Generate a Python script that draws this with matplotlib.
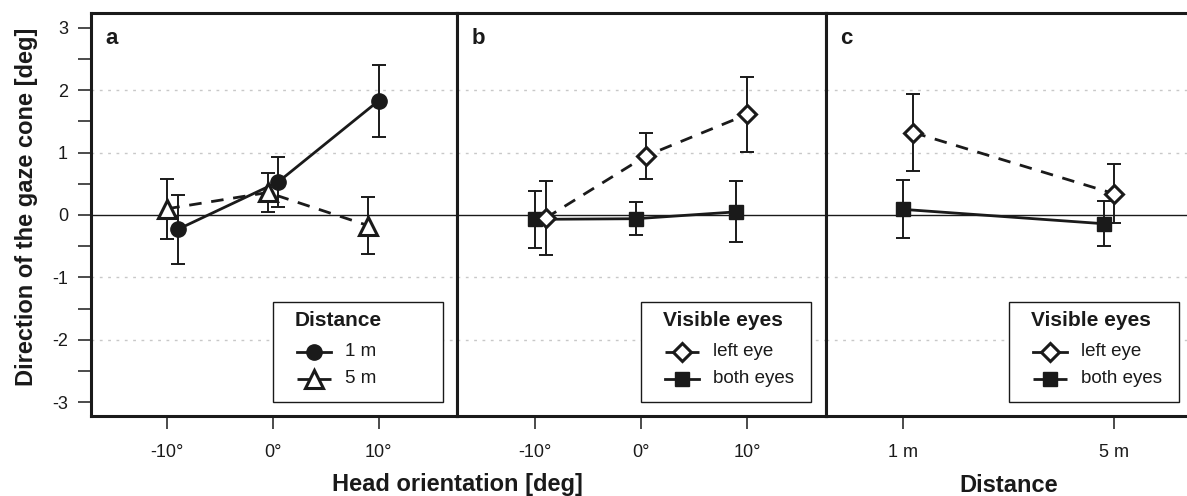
import matplotlib
matplotlib.use("Agg")
import matplotlib.pyplot as plt
from matplotlib.lines import Line2D
from matplotlib.patches import Rectangle
import numpy as np

plt.rcParams['font.family'] = ['Liberation Sans', 'DejaVu Sans']

# ---------------- data ----------------
head_labels = ["-10°", "0°", "10°"]
dist_labels = ["1 m", "5 m"]

# panel a: distance groups over head orientation
a_1m_mean = [-0.23, 0.53, 1.83]
a_1m_err = [0.55, 0.40, 0.58]
a_5m_mean = [0.10, 0.36, -0.17]
a_5m_err = [0.48, 0.31, 0.45]

# panel b: visible eyes over head orientation
b_left_mean = [-0.05, 0.95, 1.61]
b_left_err = [0.59, 0.37, 0.60]
b_both_mean = [-0.07, -0.06, 0.05]
b_both_err = [0.46, 0.26, 0.49]

# panel c: visible eyes over distance
c_left_mean = [1.32, 0.34]
c_left_err = [0.61, 0.47]
c_both_mean = [0.09, -0.14]
c_both_err = [0.465, 0.36]

# ---------------- styling ----------------
K = '#1a1a1a'
W, H = 1187, 496
fig = plt.figure(figsize=(W / 100, H / 100), dpi=100)

x0, x1, x2, x3 = 91, 457, 826, 1192
ytop, ybot = 12.7, 416
def fx(px):
    return px / W
def fy(py):
    return 1 - py / H
bottom = (H - ybot) / H
height = (ybot - ytop) / H

axa = fig.add_axes([fx(x0), bottom, fx(x1 - x0), height])
axb = fig.add_axes([fx(x1), bottom, fx(x2 - x1), height])
axc = fig.add_axes([fx(x2), bottom, fx(x3 - x2), height])

ylim = (-3.22, 3.24)
dash = (0, (4.5, 3.5))
TICK_FS = 13

def style_axes(ax, labels, xlim, letter, letter_px, show_y):
    ax.set_ylim(*ylim)
    ax.set_xlim(*xlim)
    n = len(labels)
    ax.set_xticks(np.arange(n))
    ax.set_xticklabels(labels, fontsize=TICK_FS, color=K)
    ax.tick_params(axis='x', direction='out', length=9, width=1.1, pad=11.5, color=K)
    for s in ax.spines.values():
        s.set_linewidth(2.2)
        s.set_color(K)
    for g in [-2, -1, 1, 2]:
        ax.axhline(g, color='#c8c8c8', lw=1.0, ls=(0, (2, 4)), zorder=0)
    ax.axhline(0, color=K, lw=1.0, zorder=1)
    fig.text(fx(letter_px), fy(38), letter, fontsize=16,
             fontweight='bold', color=K, va='center', ha='left')
    if show_y:
        ax.set_yticks([-3, -2, -1, 0, 1, 2, 3])
        ax.set_yticklabels(['-3', '-2', '-1', '0', '1', '2', '3'],
                           fontsize=TICK_FS, color=K)
        ax.set_yticks(np.arange(-2.5, 3.0, 1.0), minor=True)
        ax.tick_params(axis='y', which='both', direction='out', length=9.5,
                       width=1.1, pad=7, color=K)
    else:
        ax.set_yticks([])

def series(ax, xs, mean, err, marker, ms, ls, mfc, mew):
    ax.plot(xs, mean, color=K, lw=2.0, ls=ls, zorder=2, dash_capstyle='butt')
    ax.errorbar(xs, mean, yerr=err, fmt='none', ecolor=K, elinewidth=1.4,
                capsize=5, capthick=1.4, zorder=3)
    ax.plot(xs, mean, ls='none', marker=marker, ms=ms, mfc=mfc, mec=K,
            mew=mew, zorder=4)

def legend(ax, box_left, box_top, title, entries):
    tf = fig.transFigure
    bw, bh = 170, 100
    ax.add_patch(Rectangle((fx(box_left), fy(box_top + bh)), bw / W, bh / H,
                           transform=tf, facecolor='white', edgecolor=K,
                           lw=1.0, zorder=10, clip_on=False))
    ax.text(fx(box_left + 22), fy(box_top + 19), title, transform=tf,
            fontsize=15, fontweight='bold', color=K, ha='left', va='center',
            zorder=11)
    for i, (lab, ls, mk, ms, mfc, mew) in enumerate(entries):
        yy = fy(box_top + 49.5 + 27 * i)
        ax.add_line(Line2D([fx(box_left + 24), fx(box_left + 58)], [yy, yy],
                           transform=tf, color=K, lw=2.0, ls=ls,
                           dash_capstyle='butt', zorder=11, clip_on=False))
        ax.add_line(Line2D([fx(box_left + 41)], [yy], transform=tf, ls='none',
                           marker=mk, ms=ms, mfc=mfc, mec=K, mew=mew,
                           zorder=12, clip_on=False))
        ax.text(fx(box_left + 72), yy, lab, transform=tf, fontsize=13.5,
                color=K, ha='left', va='center', zorder=11)

# positions of the three / two categories
xa = np.arange(3)
xc = np.arange(2)
off_hi3 = np.array([0.10, 0.05, 0.0])
off_lo3 = np.array([0.0, -0.05, -0.10])
off_hi2 = np.array([0.05, 0.0])
off_lo2 = np.array([0.0, -0.05])

M_CIRC = ('o', 11, K, 1.0)
M_TRI = ('^', 13, 'white', 2.2)
M_SQ = ('s', 9.5, K, 1.0)
M_DIA = ('D', 9.5, 'white', 2.2)

# panel a
style_axes(axa, head_labels, (-0.722, 2.741), 'a', 105, True)
series(axa, xa + off_hi3, a_1m_mean, a_1m_err, M_CIRC[0], M_CIRC[1], '-', M_CIRC[2], M_CIRC[3])
series(axa, xa + off_lo3, a_5m_mean, a_5m_err, M_TRI[0], M_TRI[1], dash, M_TRI[2], M_TRI[3])
legend(axa, 273, 302, 'Distance', [('1 m', '-') + M_CIRC,
                                   ('5 m', dash) + M_TRI])

# panel b
style_axes(axb, head_labels, (-0.736, 2.745), 'b', 472, False)
series(axb, xa + off_lo3, b_both_mean, b_both_err, M_SQ[0], M_SQ[1], '-', M_SQ[2], M_SQ[3])
series(axb, xa + off_hi3, b_left_mean, b_left_err, M_DIA[0], M_DIA[1], dash, M_DIA[2], M_DIA[3])
legend(axb, 641, 302, 'Visible eyes', [('left eye', dash) + M_DIA,
                                       ('both eyes', '-') + M_SQ])

# panel c
style_axes(axc, dist_labels, (-0.364, 1.368), 'c', 840, False)
series(axc, xc + off_lo2, c_both_mean, c_both_err, M_SQ[0], M_SQ[1], '-', M_SQ[2], M_SQ[3])
series(axc, xc + off_hi2, c_left_mean, c_left_err, M_DIA[0], M_DIA[1], dash, M_DIA[2], M_DIA[3])
legend(axc, 1009, 302, 'Visible eyes', [('left eye', '-') + M_DIA,
                                        ('both eyes', dash) + M_SQ])

# axis titles
fig.text(fx(27), fy(207), 'Direction of the gaze cone [deg]', rotation=90,
         fontsize=17, fontweight='bold', color=K, ha='center', va='center')
fig.text(fx(457), fy(491.5), 'Head orientation [deg]', fontsize=17,
         fontweight='bold', color=K, ha='center', va='baseline')
fig.text(fx(1009), fy(491.5), 'Distance', fontsize=17,
         fontweight='bold', color=K, ha='center', va='baseline')

fig.savefig('out.png', dpi=100)
